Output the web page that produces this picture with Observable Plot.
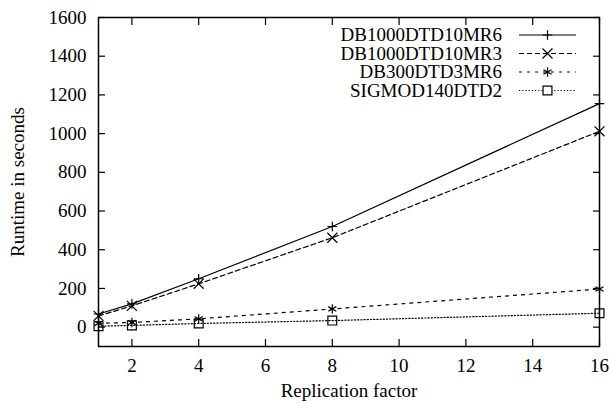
<!DOCTYPE html>
<html>
<head>
<meta charset="utf-8">
<script src="https://cdn.jsdelivr.net/npm/d3@7"></script>
<script src="https://cdn.jsdelivr.net/npm/@observablehq/plot@0.6"></script>
<style>
  html, body { margin: 0; padding: 0; background: #fff; }
  #chart svg { display: block; }
</style>
</head>
<body>
<div id="chart"></div>
<script>
// ---- data ----
const replication = [1, 2, 4, 8, 16];
const seriesNames = ["DB1000DTD10MR6", "DB1000DTD10MR3", "DB300DTD3MR6", "SIGMOD140DTD2"];
const db1000mr6 = [68, 120, 250, 520, 1155];
const db1000mr3 = [58, 110, 224, 462, 1012];
const db300mr6 = [20, 24, 43, 94, 197];
const sigmod140 = [5, 9, 19, 34, 72];
const xTicks = [2, 4, 6, 8, 10, 12, 14, 16];
const yTicks = [0, 200, 400, 600, 800, 1000, 1200, 1400, 1600];

const seriesValues = [db1000mr6, db1000mr3, db300mr6, sigmod140];
const symbols = ["plus", "times", "asterisk", "square"];
const symbolR = [3.2, 4.6, 4.4, 5];
const dashes = [null, "5,3", "3,5", "1.2,2"];

const rows = [];
seriesNames.forEach((name, i) => {
  replication.forEach((x, j) => rows.push({series: name, x, y: seriesValues[i][j], i}));
});

const font = "'Liberation Serif', 'Times New Roman', serif";

const marks = [];
seriesNames.forEach((name, i) => {
  const data = rows.filter(d => d.series === name);
  marks.push(Plot.line(data, {x: "x", y: "y", stroke: "black", strokeWidth: 1.2, strokeDasharray: dashes[i]}));
  marks.push(Plot.dot(data, {x: "x", y: "y", symbol: () => symbols[i], r: symbolR[i], stroke: "black", strokeWidth: 1.2, fill: "none"}));
});

const plot = Plot.plot({
  width: 609,
  height: 403,
  marginLeft: 98,
  marginRight: 10,
  marginTop: 17,
  marginBottom: 57,
  style: {fontFamily: font, fontSize: "19px", background: "#fff", color: "black"},
  symbol: {type: "identity"},
  x: {domain: [1, 16]},
  y: {domain: [-100, 1600]},
  marks: [
    // labels
    Plot.axisX(xTicks, {anchor: "bottom", tickSize: 0, tickPadding: 12, tickFormat: "d", fontFamily: font, fontSize: 19, label: "Replication factor", labelAnchor: "center", labelArrow: "none", labelOffset: 50}),
    Plot.axisY(yTicks, {anchor: "left", tickSize: 0, tickPadding: 12, tickFormat: "d", fontFamily: font, fontSize: 19, label: "Runtime in seconds", labelAnchor: "center", labelArrow: "none", labelOffset: 88}),
    // inward ticks on all four sides
    Plot.axisX(xTicks, {anchor: "bottom", tickSize: -7, tickFormat: () => "", label: null, strokeWidth: 1.2}),
    Plot.axisX(xTicks, {anchor: "top", tickSize: -7, tickFormat: () => "", label: null, strokeWidth: 1.2}),
    Plot.axisY(yTicks, {anchor: "left", tickSize: -7, tickFormat: () => "", label: null, strokeWidth: 1.2}),
    Plot.axisY(yTicks, {anchor: "right", tickSize: -7, tickFormat: () => "", label: null, strokeWidth: 1.2}),
    ...marks,
    Plot.frame({stroke: "black", strokeWidth: 1.5})
  ]
});

// ---- legend (top-right, inside the frame) ----
const svg = d3.select(plot);
const legend = svg.append("g").style("font-family", font).style("font-size", "19px");
const textRight = 502, lineX1 = 519, lineX2 = 576, rowY0 = 35, rowStep = 18.5;
const symMap = {plus: d3.symbolPlus, times: d3.symbolTimes, asterisk: d3.symbolAsterisk, square: d3.symbolSquare};
seriesNames.forEach((name, i) => {
  const cy = rowY0 + i * rowStep;
  legend.append("text").attr("x", textRight).attr("y", cy).attr("dy", "0.32em")
    .attr("text-anchor", "end").attr("fill", "black").text(name);
  legend.append("line").attr("x1", lineX1).attr("x2", lineX2).attr("y1", cy).attr("y2", cy)
    .attr("stroke", "black").attr("stroke-width", 1.2)
    .attr("stroke-dasharray", dashes[i]);
  legend.append("path")
    .attr("transform", `translate(${(lineX1 + lineX2) / 2},${cy})`)
    .attr("d", d3.symbol(symMap[symbols[i]], Math.PI * symbolR[i] * symbolR[i])())
    .attr("fill", "white").attr("stroke", "black").attr("stroke-width", 1.2);
});

document.getElementById("chart").appendChild(plot);
</script>
</body>
</html>
